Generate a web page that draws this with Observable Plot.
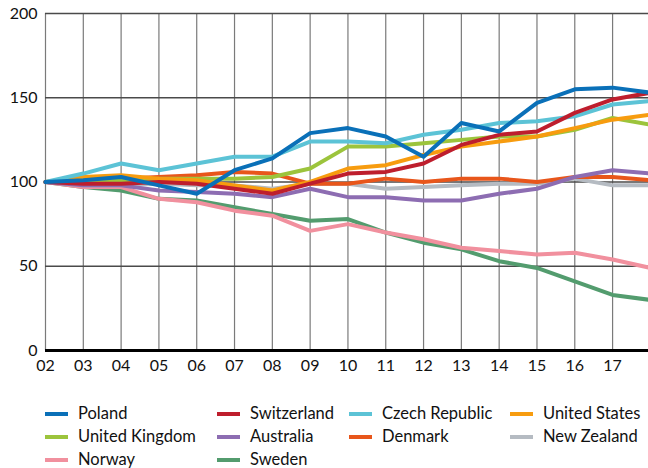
<!DOCTYPE html>
<html>
<head>
<meta charset="utf-8">
<script src="https://cdn.jsdelivr.net/npm/d3@7"></script>
<script src="https://cdn.jsdelivr.net/npm/@observablehq/plot@0.6"></script>
<style>
  html, body { margin: 0; padding: 0; background: #fff; overflow: hidden; }
  body { width: 648px; height: 468px; position: relative; font-family: Lato, sans-serif; }
  #title { position: absolute; left: 44px; top: -15px; font-size: 16px; color: #999; }
  #chart { position: absolute; left: 0; top: 0; }
  #legend { position: absolute; left: 0; top: 400px; width: 648px; height: 68px; }
  .item { position: absolute; font-size: 16.5px; color: #111; white-space: nowrap; line-height: 20px; }
  .sw { display: inline-block; width: 23px; height: 4px; vertical-align: middle; margin-right: 10px; position: relative; top: -1px; }
</style>
</head>
<body>
<div id="title">Index, 2002 = 100</div>
<div id="chart"></div>
<div id="legend"></div>
<script>
const years = [2002,2003,2004,2005,2006,2007,2008,2009,2010,2011,2012,2013,2014,2015,2016,2017,2018];
const countries = ["Poland","Switzerland","Czech Republic","United States","United Kingdom","Australia","Denmark","New Zealand","Norway","Sweden"];
const colors = ["#0a70b8","#be1e2d","#5cc3d6","#f79c0f","#9cc43c","#8d6db2","#e8561b","#b5bbc2","#f1909e","#539c6e"];

const poland      = [100,101,103, 98, 93,107,114,129,132,127,115,135,130,147,155,156,153];
const switzerland = [100, 99, 99,100, 99, 96, 93, 99,105,106,111,122,128,130,141,149,153];
const czech       = [100,105,111,107,111,115,115,124,124,123,128,131,135,136,139,146,148];
const us          = [100,103,104,102,101, 98, 95,100,108,110,116,121,124,127,132,137,140];
const uk          = [100,100,101,102,102,102,103,108,121,121,123,125,127,127,131,138,134];
const australia   = [100, 98, 98, 95, 94, 93, 91, 96, 91, 91, 89, 89, 93, 96,103,107,105];
const denmark     = [100,101,102,103,104,106,105, 99, 99,102,100,102,102,100,103,103,101];
const newZealand  = [100, 98, 98, 99, 98, 98, 96, 99, 99, 96, 97, 98, 99, 99,102, 98, 98];
const norway      = [100, 97, 97, 90, 88, 83, 80, 71, 75, 70, 66, 61, 59, 57, 58, 54, 49];
const sweden      = [100, 97, 95, 90, 89, 85, 81, 77, 78, 70, 64, 60, 53, 49, 41, 33, 30];

const yTicks = [0, 50, 100, 150, 200];
const xTicks = years.slice(0, 16);

const series = [poland, switzerland, czech, us, uk, australia, denmark, newZealand, norway, sweden];
const data = [];
// draw in reverse legend order so Poland is on top
for (let i = series.length - 1; i >= 0; i--) {
  series[i].forEach((v, j) => data.push({country: countries[i], year: years[j], value: v}));
}

const chart = Plot.plot({
  width: 648,
  height: 385,
  marginLeft: 45,
  marginRight: 0,
  marginTop: 13,
  marginBottom: 35,
  style: {fontFamily: "Lato, sans-serif", fontSize: "16px", color: "#111", background: "#fff"},
  x: {domain: [2002, 2017.95]},
  y: {domain: [0, 200]},
  color: {domain: countries, range: colors},
  marks: [
    Plot.ruleX(years, {y1: 0, y2: 200, stroke: "#7a7a7a", strokeWidth: 1.2}),
    Plot.ruleY([50, 100, 150, 200], {stroke: "#4a4a4a", strokeWidth: 1.3}),
    Plot.line(data, {x: "year", y: "value", z: "country", stroke: "country", strokeWidth: 4, strokeLinejoin: "round"}),
    Plot.ruleY([0], {stroke: "#000", strokeWidth: 3}),
    Plot.axisY({ticks: yTicks, tickSize: 0, tickPadding: 8, label: null, fontSize: 16}),
    Plot.axisX({ticks: xTicks, tickSize: 0, tickPadding: 9, label: null, fontSize: 16,
      tickFormat: d => String(d % 100).padStart(2, "0")})
  ]
});
document.getElementById("chart").appendChild(chart);

// legend
const legendCols = [45, 217, 349, 510];
const legendRows = [3, 26, 49];
const legend = document.getElementById("legend");
countries.forEach((c, i) => {
  const el = document.createElement("div");
  el.className = "item";
  el.style.left = legendCols[i % 4] + "px";
  el.style.top = legendRows[Math.floor(i / 4)] + "px";
  const sw = document.createElement("span");
  sw.className = "sw";
  sw.style.background = colors[i];
  el.appendChild(sw);
  el.appendChild(document.createTextNode(c));
  legend.appendChild(el);
});
</script>
</body>
</html>
